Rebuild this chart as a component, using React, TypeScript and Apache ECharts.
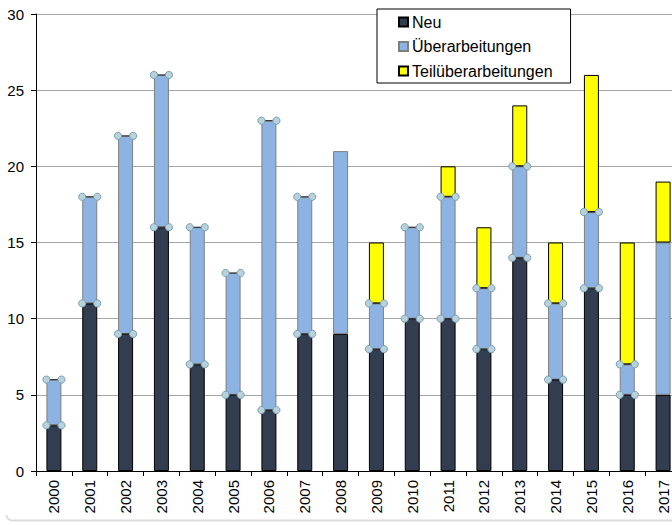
import React, { useEffect, useRef } from "react";
import * as echarts from "echarts";

// Publications per year, split by type
const years = [
  "2000", "2001", "2002", "2003", "2004", "2005", "2006", "2007", "2008",
  "2009", "2010", "2011", "2012", "2013", "2014", "2015", "2016", "2017",
];
const neu = [3, 11, 9, 16, 7, 5, 4, 9, 9, 8, 10, 10, 8, 14, 6, 12, 5, 5];
const ueberarbeitungen = [3, 7, 13, 10, 9, 8, 19, 9, 12, 3, 6, 8, 4, 6, 5, 5, 2, 10];
const teilueberarbeitungen = [null, null, null, null, null, null, null, null, null, 4, null, 2, 4, 4, 4, 9, 8, 4];

// Years whose segment boundaries carry handle markers
const markedYears = [
  "2000", "2001", "2002", "2003", "2004", "2005", "2006", "2007",
  "2009", "2010", "2011", "2012", "2013", "2014", "2015", "2016",
];

const yTicks = { min: 0, max: 30, interval: 5 };

const FONT = "'Liberation Sans', Arial, sans-serif";
const BAR_W = 15;

export default function App() {
  const ref = useRef<HTMLDivElement>(null);

  useEffect(() => {
    if (!ref.current) return;
    const chart = echarts.init(ref.current, null, { renderer: "svg" });

    // handle points: top of "Neu" and top of "Überarbeitungen" per marked year
    const handles: [number, number][] = [];
    markedYears.forEach((y) => {
      const i = years.indexOf(y);
      handles.push([i, neu[i]]);
      handles.push([i, neu[i] + ueberarbeitungen[i]]);
    });

    chart.setOption({
      animation: false,
      backgroundColor: "#ffffff",
      textStyle: { fontFamily: FONT },
      // the plot runs a little past the visible frame on the right
      grid: { left: 36, top: 14, width: 645, height: 457, containLabel: false },
      legend: {
        orient: "vertical",
        left: 377,
        top: 9,
        padding: [5, 18, 4, 21],
        itemWidth: 9,
        itemHeight: 9,
        itemGap: 8.5,
        borderColor: "#000",
        borderWidth: 1,
        backgroundColor: "#fff",
        icon: "rect",
        textStyle: { fontSize: 16, color: "#000", fontFamily: FONT, padding: [0, 0, 0, -1] },
        data: ["Neu", "Überarbeitungen", "Teilüberarbeitungen"],
      },
      xAxis: {
        type: "category",
        data: years,
        boundaryGap: true,
        axisLine: { show: true, lineStyle: { color: "#000", width: 1 } },
        axisTick: { show: true, length: 5, interval: 0, lineStyle: { color: "#000" } },
        axisLabel: {
          rotate: 90,
          interval: 0,
          margin: 9,
          fontSize: 15,
          color: "#000",
          fontFamily: FONT,
        },
        splitLine: { show: false },
      },
      yAxis: {
        type: "value",
        min: yTicks.min,
        max: yTicks.max,
        interval: yTicks.interval,
        axisLine: { show: true, lineStyle: { color: "#000", width: 1 } },
        axisTick: { show: true, length: 5, lineStyle: { color: "#000" } },
        axisLabel: { fontSize: 15, color: "#000", margin: 12, fontFamily: FONT },
        splitLine: { show: true, lineStyle: { color: "#a6a6a6", width: 1.2 } },
      },
      series: [
        {
          name: "Neu",
          type: "bar",
          stack: "total",
          barWidth: BAR_W,
          data: neu,
          itemStyle: { color: "#323d4f", borderColor: "#000", borderWidth: 1 },
        },
        {
          name: "Überarbeitungen",
          type: "bar",
          stack: "total",
          barWidth: BAR_W,
          data: ueberarbeitungen,
          itemStyle: { color: "#8db3e2", borderColor: "#7f7f7f", borderWidth: 1 },
        },
        {
          name: "Teilüberarbeitungen",
          type: "bar",
          stack: "total",
          barWidth: BAR_W,
          data: teilueberarbeitungen,
          itemStyle: { color: "#ffff00", borderColor: "#000", borderWidth: 1 },
        },
        {
          name: "handles",
          type: "custom",
          silent: true,
          z: 5,
          data: handles,
          renderItem: (params: any, api: any) => {
            const p = api.coord([api.value(0), api.value(1)]);
            const h = BAR_W / 2;
            const circ = (cx: number) => ({
              type: "circle",
              shape: { cx, cy: p[1], r: 3.6 },
              style: { fill: "#b7d2dd", stroke: "#7b9fb0", lineWidth: 1 },
            });
            return {
              type: "group",
              children: [
                {
                  type: "line",
                  shape: { x1: p[0] - h, y1: p[1], x2: p[0] + h, y2: p[1] },
                  style: { stroke: "#333", lineWidth: 1.2 },
                },
                circ(p[0] - h),
                circ(p[0] + h),
              ],
            };
          },
        },
      ],
      graphic: [
        {
          type: "line",
          shape: { x1: 12, y1: 520.5, x2: 672, y2: 520.5 },
          style: { stroke: "#dcdcdc", lineWidth: 2 },
          silent: true,
        },
        {
          type: "arc",
          shape: { cx: 12, cy: 515, r: 5.5, startAngle: Math.PI / 2, endAngle: Math.PI },
          style: { stroke: "#dcdcdc", lineWidth: 2, fill: "none" },
          silent: true,
        },
      ],
    });

    return () => chart.dispose();
  }, []);

  return (
    <div
      style={{
        position: "absolute",
        left: 0,
        top: 0,
        width: 672,
        height: 525,
        overflow: "hidden",
        background: "#fff",
      }}
    >
      <div ref={ref} style={{ width: 690, height: 525 }} />
    </div>
  );
}
